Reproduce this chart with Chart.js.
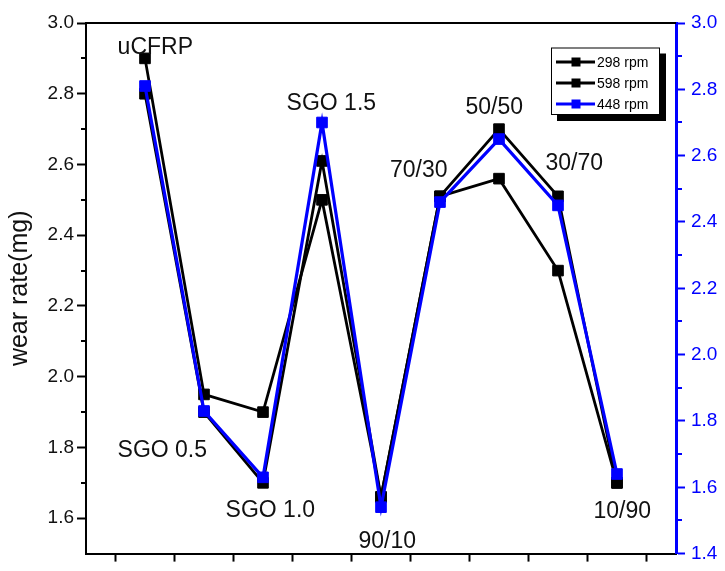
<!DOCTYPE html>
<html><head><meta charset="utf-8">
<script src="https://cdn.jsdelivr.net/npm/chart.js@4/dist/chart.umd.min.js"></script>
<style>html,body{margin:0;padding:0;background:#fff;overflow:hidden}#wrap{width:725px;height:571px;position:relative}</style>
</head><body><div id="wrap"><canvas id="c"></canvas></div>
<script>
// ---- data ----
const categories = ['uCFRP','SGO 0.5','SGO 1.0','SGO 1.5','90/10','70/30','50/50','30/70','10/90'];
const rpm298 = [2.90, 1.95, 1.90, 2.50, 1.66, 2.51, 2.56, 2.30, 1.70];
const rpm598 = [2.80, 1.90, 1.70, 2.61, 1.66, 2.51, 2.70, 2.51, 1.70];
const rpm448 = [2.81, 1.83, 1.63, 2.70, 1.54, 2.46, 2.65, 2.45, 1.64];
const seriesNames = ['298 rpm', '598 rpm', '448 rpm'];
const leftTicks = [1.6, 1.8, 2.0, 2.2, 2.4, 2.6, 2.8, 3.0];
const rightTicks = [1.4, 1.6, 1.8, 2.0, 2.2, 2.4, 2.6, 2.8, 3.0];
const leftMinor = [1.7, 1.9, 2.1, 2.3, 2.5, 2.7, 2.9];
const rightMinor = [1.5, 1.7, 1.9, 2.1, 2.3, 2.5, 2.7, 2.9];
const xTickMarks = [0.5, 1.5, 2.5, 3.5, 4.5, 5.5, 6.5, 7.5, 8.5, 9.5];
const yTitle = 'wear rate(mg)';

// annotation anchors for category names (x in category units, y in left-axis units)
const labelAnchorX = [1.175, 1.293, 3.124, 4.158, 5.107, 5.641, 6.92, 8.276, 9.09];
const labelAnchorY = [2.912, 1.774, 1.604, 2.755, 1.515, 2.566, 2.743, 2.585, 1.602];

const FONT = 'Liberation Sans, Arial, sans-serif';
const BLUE = '#0000ff';
const toXY = arr => arr.map((v, i) => ({x: i + 1, y: v}));

const decor = {
  id: 'decor',
  afterDraw(chart) {
    const {ctx, chartArea: a, scales} = chart;
    ctx.save();
    // top frame
    ctx.strokeStyle = '#000'; ctx.lineWidth = 2;
    ctx.beginPath(); ctx.moveTo(a.left - 1, a.top); ctx.lineTo(a.right, a.top); ctx.stroke();
    // minor ticks
    ctx.lineWidth = 2;
    ctx.strokeStyle = '#000';
    leftMinor.forEach(v => {
      const y = Math.round(scales.y.getPixelForValue(v));
      ctx.beginPath(); ctx.moveTo(a.left - 5, y); ctx.lineTo(a.left, y); ctx.stroke();
    });
    ctx.strokeStyle = BLUE;
    rightMinor.forEach(v => {
      const y = Math.round(scales.y2.getPixelForValue(v));
      ctx.beginPath(); ctx.moveTo(a.right, y); ctx.lineTo(a.right + 6, y); ctx.stroke();
    });
    // category annotations
    ctx.fillStyle = '#111';
    ctx.font = '23px ' + FONT;
    ctx.textAlign = 'center'; ctx.textBaseline = 'alphabetic';
    categories.forEach((c, i) => {
      ctx.fillText(c, scales.x.getPixelForValue(labelAnchorX[i]), scales.y.getPixelForValue(labelAnchorY[i]));
    });
    // legend box
    const L = {x: 551, y: 47.5, w: 109, h: 67.5, sh: 6};
    ctx.fillStyle = '#000';
    ctx.fillRect(L.x + L.sh, L.y + L.sh, L.w, L.h);
    ctx.fillStyle = '#fff';
    ctx.fillRect(L.x, L.y, L.w, L.h);
    ctx.strokeStyle = '#000'; ctx.lineWidth = 1;
    ctx.strokeRect(L.x + 0.5, L.y + 0.5, L.w - 1, L.h - 1);
    ctx.font = '14px ' + FONT;
    ctx.textAlign = 'left'; ctx.textBaseline = 'middle';
    seriesNames.forEach((name, i) => {
      const ds = chart.data.datasets.find(d => d.label === name);
      const ry = L.y + 14.5 + i * 21;
      ctx.strokeStyle = ds.borderColor; ctx.lineWidth = ds.borderWidth;
      ctx.beginPath(); ctx.moveTo(L.x + 5, ry); ctx.lineTo(L.x + 44, ry); ctx.stroke();
      ctx.fillStyle = ds.borderColor;
      ctx.fillRect(L.x + 20.5, ry - 4.5, 9, 9);
      ctx.fillStyle = '#000';
      ctx.fillText(name, L.x + 46, ry + 1);
    });
    ctx.restore();
  }
};

const mkDs = (label, arr, color, width, axis, order) => ({
  label, data: toXY(arr), yAxisID: axis, borderColor: color, backgroundColor: color,
  borderWidth: width, pointStyle: 'rect', pointRadius: 7.5, pointHoverRadius: 7.5,
  pointBorderWidth: 1, pointBorderColor: color, pointBackgroundColor: color,
  tension: 0, order, clip: false
});

new Chart(document.getElementById('c'), {
  type: 'line',
  data: {
    datasets: [
      mkDs(seriesNames[0], rpm298, '#000', 2.8, 'y', 2),
      mkDs(seriesNames[1], rpm598, '#000', 2.8, 'y', 1),
      mkDs(seriesNames[2], rpm448, BLUE, 3.2, 'y2', 0)
    ]
  },
  options: {
    responsive: true, maintainAspectRatio: false, animation: false,
    devicePixelRatio: 1,
    layout: {padding: {top: 23, left: 0, right: 0, bottom: 0}},
    plugins: {legend: {display: false}, title: {display: false}, tooltip: {enabled: false}},
    scales: {
      x: {
        type: 'linear', min: 0, max: 10, position: 'bottom',
        afterBuildTicks: s => { s.ticks = xTickMarks.map(v => ({value: v})); },
        afterFit: s => { s.height = 6; },
        ticks: {display: false},
        grid: {drawOnChartArea: false, drawTicks: true, tickLength: 8, tickWidth: 2, tickColor: '#000'},
        border: {display: true, color: '#000', width: 2}
      },
      y: {
        type: 'linear', position: 'left', min: 1.5, max: 3.0,
        afterBuildTicks: s => { s.ticks = leftTicks.map(v => ({value: v})); },
        afterFit: s => { s.width = 86; },
        ticks: {color: '#111', font: {family: FONT, size: 19}, padding: 3, callback: v => Number(v).toFixed(1)},
        grid: {drawOnChartArea: false, drawTicks: true, tickLength: 9, tickWidth: 2, tickColor: '#000'},
        border: {display: true, color: '#000', width: 2},
        title: {display: true, text: yTitle, color: '#111', font: {family: FONT, size: 25}, padding: {top: 5, bottom: 0}}
      },
      y2: {
        type: 'linear', position: 'right', min: 1.4, max: 3.0,
        afterBuildTicks: s => { s.ticks = rightTicks.map(v => ({value: v})); },
        afterFit: s => { s.width = 49; },
        ticks: {color: BLUE, font: {family: FONT, size: 19}, padding: 6, callback: v => Number(v).toFixed(1)},
        grid: {drawOnChartArea: false, drawTicks: true, tickLength: 9, tickWidth: 2, tickColor: BLUE},
        border: {display: true, color: BLUE, width: 3}
      }
    }
  },
  plugins: [decor]
});
</script>
</body></html>
